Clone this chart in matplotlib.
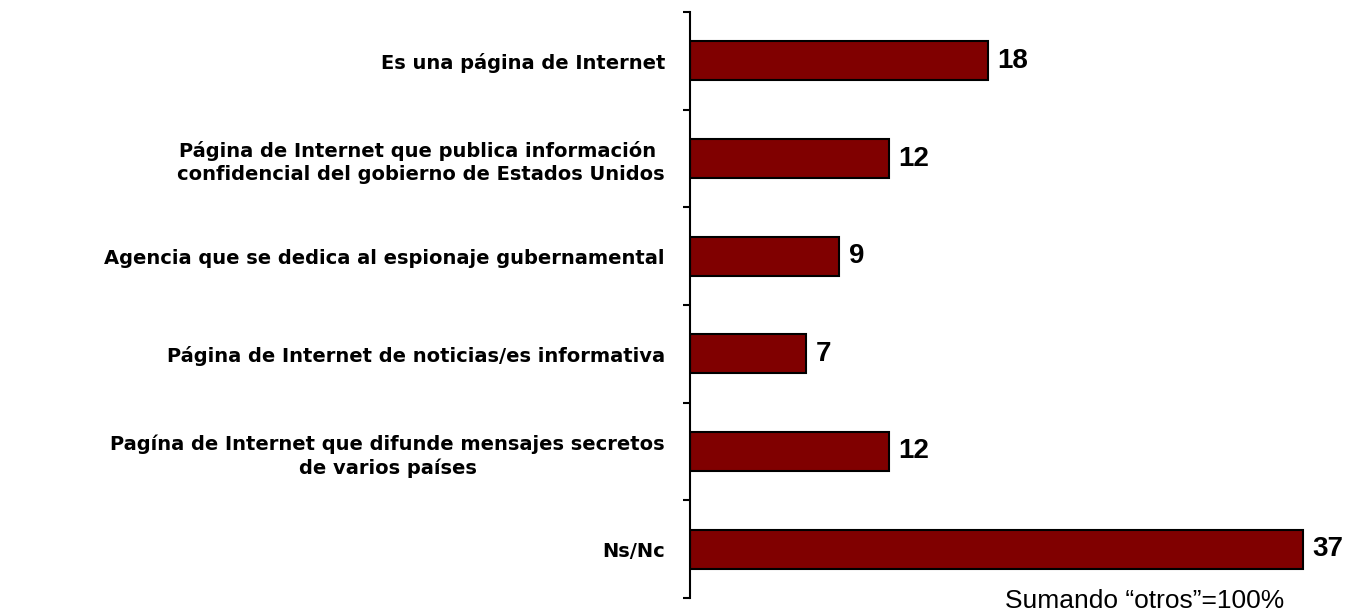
import matplotlib
matplotlib.use("Agg")
import matplotlib.pyplot as plt
import numpy as np

# data
categories = [
    "Es una página de Internet",
    "Página de Internet que publica información \nconfidencial del gobierno de Estados Unidos",
    "Agencia que se dedica al espionaje gubernamental",
    "Página de Internet de noticias/es informativa",
    "Pagína de Internet que difunde mensajes secretos\nde varios países",
    "Ns/Nc",
]
values = [18, 12, 9, 7, 12, 37]
note = "Sumando \u201cotros\u201d=100%"

W, H = 1346, 613
fig = plt.figure(figsize=(W / 100, H / 100), dpi=100)
plt.rcParams['font.family'] = ['Liberation Sans', 'DejaVu Sans']

# axes placed in pixel terms
ax_left, ax_top, ax_bottom = 690, 12, 598
ax = fig.add_axes([ax_left / W, (H - ax_bottom) / H,
                   (W - ax_left) / W, (ax_bottom - ax_top) / H])

y = np.arange(len(categories))
ax.barh(y, values, height=0.4, color='#800000', edgecolor='black', linewidth=1.5)

px_per_unit = (988 - 690) / 18
ax.set_xlim(0, (W - ax_left) / px_per_unit)
ax.set_ylim(len(categories) - 0.5, -0.5)

for yi, v in zip(y, values):
    ax.annotate(str(v), (v, yi), xytext=(7, 0), textcoords='offset points',
                ha='left', va='center', fontsize=20, fontweight='bold')

# boundary ticks (major), category labels on minor ticks
ax.set_yticks(np.arange(-0.5, len(categories), 1.0))
ax.set_yticklabels([])
ax.set_yticks(y, minor=True)
# wider face to get closer to the letter-spaced labels of the original
ax.set_yticklabels(categories, minor=True, fontsize=14, fontweight='bold',
                   family=['DejaVu Sans'], multialignment='center', linespacing=1.3)
ax.tick_params(axis='y', which='major', length=5, width=1.5, direction='out')
ax.tick_params(axis='y', which='minor', length=0, pad=18)

ax.set_xticks([])
for s in ['top', 'right', 'bottom']:
    ax.spines[s].set_visible(False)
ax.spines['left'].set_linewidth(1.5)

fig.text(1005 / W, 5 / H, note, fontsize=19, ha='left', va='baseline')

fig.savefig("out.png", dpi=100)
